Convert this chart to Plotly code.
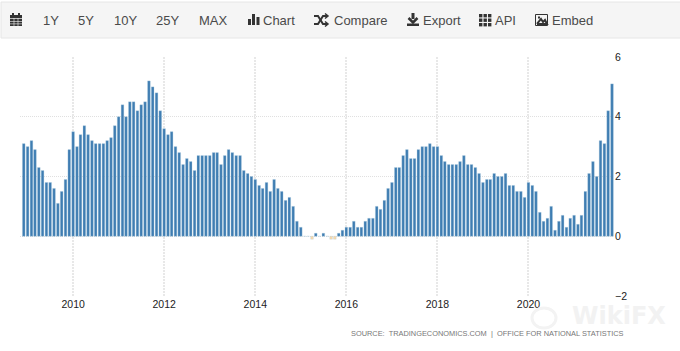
import plotly.graph_objects as go
import pandas as pd

START_MONTH = "2008-12-01"
CPI_VALUES = [
    3.1, 3.0, 3.2, 2.9, 2.3, 2.2, 1.8, 1.8, 1.6, 1.1, 1.5, 1.9, 2.9,
    3.5, 3.0, 3.4, 3.7, 3.4, 3.2, 3.1, 3.1, 3.1, 3.2, 3.3, 3.7,
    4.0, 4.4, 4.0, 4.5, 4.5, 4.2, 4.4, 4.5, 5.2, 5.0, 4.8, 4.2,
    3.6, 3.4, 3.5, 3.0, 2.8, 2.4, 2.6, 2.5, 2.2, 2.7, 2.7, 2.7,
    2.7, 2.8, 2.8, 2.4, 2.7, 2.9, 2.8, 2.7, 2.7, 2.2, 2.1, 2.0,
    1.9, 1.7, 1.6, 1.8, 1.5, 1.9, 1.6, 1.5, 1.2, 1.3, 1.0, 0.5,
    0.3, 0.0, 0.0, -0.1, 0.1, 0.0, 0.1, 0.0, -0.1, -0.1, 0.1, 0.2,
    0.3, 0.3, 0.5, 0.3, 0.3, 0.5, 0.6, 0.6, 1.0, 0.9, 1.2, 1.6,
    1.8, 2.3, 2.3, 2.7, 2.9, 2.6, 2.6, 2.9, 3.0, 3.0, 3.1, 3.0,
    3.0, 2.7, 2.5, 2.4, 2.4, 2.4, 2.5, 2.7, 2.4, 2.4, 2.3, 2.1,
    1.8, 1.9, 1.9, 2.1, 2.0, 2.0, 2.1, 1.7, 1.7, 1.5, 1.5, 1.3,
    1.8, 1.7, 1.5, 0.8, 0.5, 0.6, 1.0, 0.2, 0.5, 0.7, 0.3, 0.6,
    0.7, 0.4, 0.7, 1.5, 2.1, 2.5, 2.0, 3.2, 3.1, 4.2, 5.1,
]
X_TICKS = ["2010-01-01", "2012-01-01", "2014-01-01", "2016-01-01", "2018-01-01", "2020-01-01"]
X_LABELS = ["2010", "2012", "2014", "2016", "2018", "2020"]
Y_TICKS = [-2, 0, 2, 4, 6]
TOOLBAR = [("1Y", 41), ("5Y", 76), ("10Y", 112), ("25Y", 154), ("MAX", 197),
           ("Chart", 261), ("Compare", 332), ("Export", 421), ("API", 493), ("Embed", 550)]
SOURCE = "SOURCE:  TRADINGECONOMICS.COM  |  OFFICE FOR NATIONAL STATISTICS"

W, H = 680, 351
L, R, T, B = 20, 614, 57, 296
months = pd.date_range(START_MONTH, periods=len(CPI_VALUES), freq="MS")


def fx(px):
    return (px - L) / (R - L)


def fy(py):
    return (B - py) / (B - T)


def rect(x0, y0, x1, y1, fill, line=None, layer="above"):
    return dict(type="rect", xref="paper", yref="paper", x0=fx(x0), x1=fx(x1), y0=fy(y0), y1=fy(y1),
                fillcolor=fill, line=dict(color=line or fill, width=1 if line else 0), layer=layer)


def path(points, color, width=2):
    d = "M" + " L".join(f"{fx(a):.5f},{fy(b):.5f}" for a, b in points)
    return dict(type="path", xref="paper", yref="paper", path=d,
                line=dict(color=color, width=width), layer="above")


ICON = "#333333"
shapes = [rect(1, 2, 681, 38, "#f5f5f5", "#e6e6e6", "below")]
# calendar
shapes += [rect(10, 15, 22, 26, ICON), rect(12, 13, 14, 15, ICON), rect(18, 13, 20, 15, ICON)]
shapes += [rect(10, 18, 22, 18.7, "#f5f5f5"), rect(10, 21, 22, 21.6, "#f5f5f5"), rect(10, 23.6, 22, 24.2, "#f5f5f5"),
           rect(13.7, 18, 14.3, 26, "#f5f5f5"), rect(17.7, 18, 18.3, 26, "#f5f5f5")]
# bar chart
shapes += [rect(248, 19, 251, 25, ICON), rect(252, 14, 255, 25, ICON), rect(256.5, 17, 259.5, 25, ICON)]
# shuffle
shapes += [path([(314, 16), (318, 16), (323, 24), (327, 24)], ICON),
           path([(314, 24), (318, 24), (323, 16), (327, 16)], ICON),
           path([(325, 13.5), (328, 16), (325, 18.5)], ICON, 1.5),
           path([(325, 21.5), (328, 24), (325, 26.5)], ICON, 1.5)]
# download
shapes += [rect(411.5, 13, 414.5, 19, ICON), path([(408.5, 18), (413, 22.5), (417.5, 18)], ICON, 2.5),
           rect(407, 23.5, 419, 26, ICON)]
# grid
for gx in (479, 483.5, 488):
    for gy in (14, 18.5, 23):
        shapes.append(rect(gx, gy, gx + 3.4, gy + 3.4, ICON))
# image
shapes += [rect(535.5, 14.5, 547.5, 25.5, "#f5f5f5", ICON),
           path([(537, 24), (541, 19), (543, 22), (545, 20), (547, 24), (537, 24)], ICON, 2),
           rect(538, 16.5, 540, 18.5, ICON)]
# watermark ring
shapes.append(dict(type="circle", xref="paper", yref="paper", x0=fx(532), x1=fx(556), y0=fy(328), y1=fy(308),
                   line=dict(color="#f3f3f3", width=3), layer="above"))

ann = [dict(text=t, xref="paper", yref="paper", x=fx(x), y=fy(20), xanchor="left", yanchor="middle",
            showarrow=False, font=dict(family="Liberation Sans", size=13, color="#4a4a4a"))
       for t, x in TOOLBAR]
ann.append(dict(text=SOURCE, xref="paper", yref="paper", x=fx(625.5), y=fy(333.5), xanchor="right", yanchor="middle",
                showarrow=False, font=dict(family="Liberation Sans", size=7.4, color="#777777")))
ann.append(dict(text="WikiFX", xref="paper", yref="paper", x=fx(668), y=fy(316), xanchor="right", yanchor="middle",
                showarrow=False, font=dict(family="DejaVu Sans", size=24, weight="bold", color="#f2f2f2")))

colors = ["#3f7db2" if v >= 0 else "#fad8a8" for v in CPI_VALUES]

fig = go.Figure(go.Bar(x=months, y=CPI_VALUES,
                       marker=dict(color=colors, line=dict(color="rgba(170,200,225,0.8)", width=0.4))))
fig.update_layout(
    width=W, height=H, autosize=False,
    margin=dict(l=L, r=W - R, t=T, b=H - B, pad=0),
    paper_bgcolor="white", plot_bgcolor="white", bargap=0.24, showlegend=False,
    shapes=shapes, annotations=ann,
    font=dict(family="Liberation Sans", size=10.5, color="#222222"),
)
fig.update_xaxes(type="date", range=["2008-11-01", "2021-11-17"], tickvals=X_TICKS, ticktext=X_LABELS,
                 showgrid=True, gridcolor="#e8e8e8", griddash="2px,1px", gridwidth=1.5,
                 zeroline=False, showline=False, ticks="", ticklabelstandoff=0)
fig.update_yaxes(range=[-2, 6], tickvals=Y_TICKS, side="right", showgrid=True, gridcolor="#e0e0e0",
                 griddash="1px,1px", gridwidth=1, zeroline=False, showline=False, ticks="")
fig.write_html("out.html", config=dict(displayModeBar=False),
               post_script="document.body.style.margin='0';document.body.style.overflow='hidden';")
